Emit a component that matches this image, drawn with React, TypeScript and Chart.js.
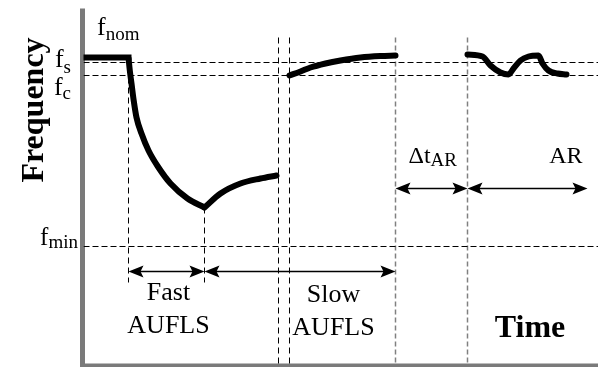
import React, { useEffect, useRef } from "react";
import { Chart, registerables } from "chart.js";

Chart.register(...registerables);

// ---- schematic axis ranges (time / frequency, arbitrary units) ----
const T_MIN = 0;
const T_MAX = 514.5;
const F_MIN = 0;
const F_MAX = 365;

// ---- frequency levels ----
const F_NOM = 308;
const F_S = 303;
const F_C = 290;
const F_LOW = 119; // f_min
const F_AXIS_TOP = 357;
const F_EVENT_TOP = 328;
const F_MARK_LOW = 83;
const F_ARROW_LOW = 94;
const F_ARROW_HIGH = 177;

// ---- event instants ----
const T_FAST_START = 45;
const T_FAST_END = 121;
const T_BREAK_A = 195;
const T_BREAK_B = 206;
const T_SLOW_END = 312;
const T_AR_START = 384;
const T_AR_END = 504;

// ---- frequency trajectory ----
const preTime = [0, 45];
const preFreq = [308, 308];
const fastTime = [45, 46.3, 48, 50.2, 53, 58, 65, 75, 87, 104, 121];
const fastFreq = [308, 295, 282, 265, 248, 232, 215, 198, 182, 167, 158];
const recoverTime = [121, 137, 157, 177, 193];
const recoverFreq = [158, 172, 182, 187, 190];
const slowTime = [206, 217, 227, 242, 257, 277, 297, 312];
const slowFreq = [290, 294, 298, 302, 305, 308, 309.5, 310];
const arTime = [384, 399, 407, 417, 425, 430, 437, 445, 455, 459, 465, 474, 483];
const arFreq = [311, 309, 300, 293, 291, 297, 305, 309, 310, 302, 295, 292, 291];

// ---- spans (arrows) ----
const spanStart = [T_FAST_START, T_FAST_END, T_SLOW_END, T_AR_START];
const spanEnd = [T_FAST_END, T_SLOW_END, T_AR_START, T_AR_END];
const spanLevel = [F_ARROW_LOW, F_ARROW_LOW, F_ARROW_HIGH, F_ARROW_HIGH];

const zip = (xs: number[], ys: number[]) => xs.map((v, i) => ({ x: v, y: ys[i] }));

const SERIF = '"Liberation Serif", "Times New Roman", serif';

function drawSub(
  ctx: CanvasRenderingContext2D,
  xPos: number,
  base: number,
  main: string,
  sub: string,
  mainPx: number,
  subPx: number,
  subDrop: number,
  align: "left" | "right"
) {
  ctx.font = `${mainPx}px ${SERIF}`;
  const wm = ctx.measureText(main).width;
  ctx.font = `${subPx}px ${SERIF}`;
  const ws = ctx.measureText(sub).width;
  const start = align === "left" ? xPos : xPos - wm - ws;
  ctx.textAlign = "left";
  ctx.font = `${mainPx}px ${SERIF}`;
  ctx.fillText(main, start, base);
  ctx.font = `${subPx}px ${SERIF}`;
  ctx.fillText(sub, start + wm, base + subDrop);
}

function arrowHead(ctx: CanvasRenderingContext2D, tipX: number, yy: number, dir: number) {
  const len = 15;
  const half = 6;
  ctx.beginPath();
  ctx.moveTo(tipX, yy);
  ctx.lineTo(tipX - dir * len, yy - half);
  ctx.lineTo(tipX - dir * len * 0.8, yy);
  ctx.lineTo(tipX - dir * len, yy + half);
  ctx.closePath();
  ctx.fill();
}

const schematicPlugin = {
  id: "schematic",
  beforeDatasetsDraw(chart: any) {
    const { ctx, scales } = chart;
    const x = scales.x;
    const y = scales.y;
    ctx.save();
    ctx.strokeStyle = "#7a7a7a";
    ctx.lineCap = "butt";
    // vertical (frequency) axis
    const ax = x.getPixelForValue(T_MIN) - 1;
    ctx.lineWidth = 5;
    ctx.beginPath();
    ctx.moveTo(ax, y.getPixelForValue(F_AXIS_TOP));
    ctx.lineTo(ax, chart.height);
    ctx.stroke();
    // horizontal (time) axis
    const ay = y.getPixelForValue(F_MIN);
    ctx.lineWidth = 4;
    ctx.beginPath();
    ctx.moveTo(ax - 2.5, ay);
    ctx.lineTo(chart.width, ay);
    ctx.stroke();
    ctx.restore();
  },
  afterDatasetsDraw(chart: any) {
    const { ctx, scales } = chart;
    const x = scales.x;
    const y = scales.y;
    ctx.save();
    ctx.fillStyle = "#000";
    ctx.strokeStyle = "#000";
    // span arrows
    for (let i = 0; i < spanStart.length; i++) {
      const x1 = x.getPixelForValue(spanStart[i]);
      const x2 = x.getPixelForValue(spanEnd[i]);
      const yy = y.getPixelForValue(spanLevel[i]);
      ctx.lineWidth = 1.5;
      ctx.beginPath();
      ctx.moveTo(x1 + 8, yy);
      ctx.lineTo(x2 - 8, yy);
      ctx.stroke();
      arrowHead(ctx, x1, yy, -1);
      arrowHead(ctx, x2, yy, 1);
    }

    ctx.textBaseline = "alphabetic";
    ctx.fillStyle = "#000";
    // axis title
    ctx.save();
    ctx.translate(43, 110);
    ctx.rotate(-Math.PI / 2);
    ctx.textAlign = "center";
    ctx.font = `bold 32px ${SERIF}`;
    ctx.fillText("Frequency", 0, 0);
    ctx.restore();

    ctx.textAlign = "center";
    ctx.font = `bold 32px ${SERIF}`;
    ctx.fillText("Time", 530, 337);

    // level labels
    drawSub(ctx, 97, 35, "f", "nom", 26, 19, 5, "left");
    drawSub(ctx, 71, 67, "f", "s", 26, 19, 6, "right");
    drawSub(ctx, 71, 95, "f", "c", 26, 19, 4, "right");
    drawSub(ctx, 78, 245, "f", "min", 25, 19, 3, "right");

    // span labels
    ctx.textAlign = "center";
    ctx.font = `26px ${SERIF}`;
    const fastMid = (x.getPixelForValue(T_FAST_START) + x.getPixelForValue(T_FAST_END)) / 2 + 2;
    ctx.fillText("Fast", fastMid, 300);
    ctx.fillText("AUFLS", fastMid, 333);
    const slowMid = x.getPixelForValue(T_BREAK_B) + 44;
    ctx.fillText("Slow", slowMid, 302);
    ctx.fillText("AUFLS", slowMid, 335);

    drawSub(ctx, x.getPixelForValue(T_SLOW_END) + 13, 163, "\u0394t", "AR", 24, 19, 3, "left");
    ctx.textAlign = "right";
    ctx.font = `24px ${SERIF}`;
    ctx.fillText("AR", x.getPixelForValue(T_AR_END) - 5, 163);
    ctx.restore();
  },
};

const curveStyle = {
  borderColor: "#000",
  borderWidth: 6,
  pointRadius: 0,
  fill: false,
  cubicInterpolationMode: "monotone" as const,
  borderCapStyle: "round" as const,
  borderJoinStyle: "round" as const,
};

const dashStyle = (color: string, width: number, dash: number[]) => ({
  borderColor: color,
  borderWidth: width,
  borderDash: dash,
  pointRadius: 0,
  fill: false,
  tension: 0,
});

export default function App() {
  const ref = useRef<HTMLCanvasElement | null>(null);
  useEffect(() => {
    if (!ref.current) return;
    const hLine = (f: number) => [
      { x: T_MIN, y: f },
      { x: T_MAX, y: f },
    ];
    const vLine = (t: number, f1: number, f2: number) => [
      { x: t, y: f1 },
      { x: t, y: f2 },
    ];
    const chart = new Chart(ref.current, {
      type: "line",
      data: {
        datasets: [
          { data: zip(preTime, preFreq), ...curveStyle, borderCapStyle: "square" as const },
          { data: zip(fastTime, fastFreq), ...curveStyle, borderCapStyle: "butt" as const },
          { data: zip(recoverTime, recoverFreq), ...curveStyle },
          { data: zip(slowTime, slowFreq), ...curveStyle },
          { data: zip(arTime, arFreq), ...curveStyle },
          { data: hLine(F_S), ...dashStyle("#000", 1, [6, 3]) },
          { data: hLine(F_C), ...dashStyle("#000", 1, [6, 3]) },
          { data: hLine(F_LOW), ...dashStyle("#000", 1, [6, 3]) },
          { data: vLine(T_FAST_START, F_NOM, F_MARK_LOW), ...dashStyle("#000", 1, [6, 4]) },
          { data: vLine(T_FAST_END, 158, F_MARK_LOW), ...dashStyle("#000", 1, [6, 4]) },
          { data: vLine(T_BREAK_A, F_EVENT_TOP, F_MIN), ...dashStyle("#000", 1, [6, 4]) },
          { data: vLine(T_BREAK_B, F_EVENT_TOP, F_MIN), ...dashStyle("#000", 1, [6, 4]) },
          { data: vLine(T_SLOW_END, F_EVENT_TOP, F_MIN), ...dashStyle("#808080", 1.5, [5, 3]) },
          { data: vLine(T_AR_START, F_EVENT_TOP, F_MIN), ...dashStyle("#808080", 1.5, [5, 3]) },
        ],
      },
      options: {
        responsive: false,
        animation: false,
        events: [],
        layout: { padding: { left: 83.5, right: 0, top: 0.5, bottom: 1.5 } },
        plugins: { legend: { display: false }, tooltip: { enabled: false } },
        scales: {
          x: { type: "linear", min: T_MIN, max: T_MAX, display: false },
          y: { type: "linear", min: F_MIN, max: F_MAX, display: false },
        },
      },
      plugins: [schematicPlugin],
    });
    return () => chart.destroy();
  }, []);
  return (
    <div style={{ position: "fixed", left: 0, top: 0, width: 598, height: 367, background: "#fff" }}>
      <canvas ref={ref} width={598} height={367} style={{ display: "block" }} />
    </div>
  );
}
